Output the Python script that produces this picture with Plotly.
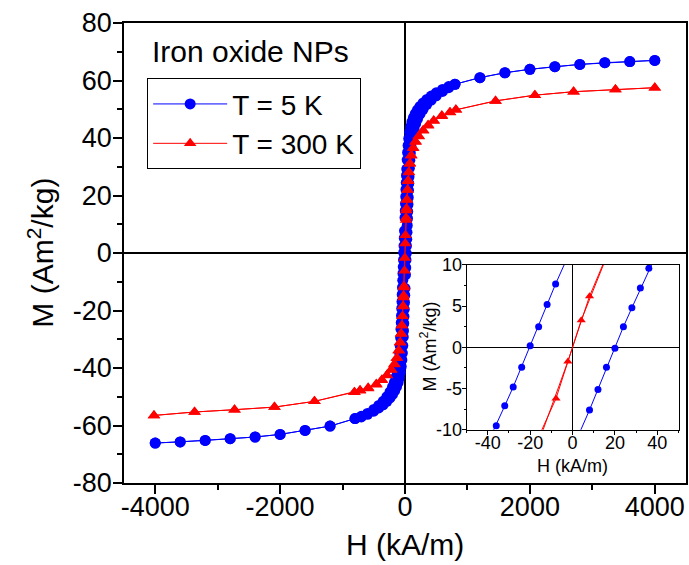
import plotly.graph_objects as go

# ---------------- data (H in kA/m, M in Am^2/kg) ----------------
blue_down_H = [4000, 3600, 3200, 2800, 2400, 2000, 1600, 1200, 800, 700, 600, 500, 420, 350, 290, 240,
               200, 165, 135, 110, 90, 74, 60, 50, 42, 35, 28, 24, 20, 16, 12, 8, 4, 0,
               -8, -12, -16, -20, -24, -28, -32, -36, -40, -44, -48, -52, -56, -60, -64,
               -70, -77, -85, -95, -108, -124, -145, -170, -200, -240, -290, -350, -420, -500,
               -600, -700, -800, -1200, -1600, -2000, -2400, -2800, -3200, -3600, -4000]
blue_down_M = [67.0, 66.6, 66.2, 65.6, 64.8, 63.9, 62.7, 61.0, 58.7, 57.9, 56.9, 55.7, 54.6, 53.4, 52.2, 51.0,
               49.8, 48.5, 47.1, 45.6, 43.9, 42.0, 39.8, 37.4, 35.0, 32.4, 29.2, 27.0, 24.5, 22.1, 19.6, 17.2, 14.7, 12.3,
               7.7, 5.2, 2.5, 0.2, -2.4, -4.8, -7.1, -9.5, -12.0, -14.4, -16.9, -19.3, -21.8, -24.2, -26.5,
               -29.5, -32.3, -34.8, -37.1, -39.3, -41.3, -43.2, -45.0, -46.6, -48.3, -50.0, -51.6, -53.0, -54.4,
               -55.8, -56.8, -57.6, -60.2, -61.7, -63.1, -64.0, -64.6, -65.2, -65.7, -66.1]

blue_up_H = [-4000, -3600, -3200, -2800, -2400, -2000, -1600, -1200, -800, -700, -600, -500, -420, -350, -290, -240,
             -200, -165, -135, -110, -90, -74, -60, -50, -42, -35, -28, -24, -20, -16, -12, -8, -4, 0,
             8, 12, 16, 20, 24, 28, 32, 36, 40, 44, 48, 52, 56, 60, 64,
             70, 77, 85, 95, 108, 124, 145, 170, 200, 240, 290, 350, 420, 500,
             600, 700, 800, 1200, 1600, 2000, 2400, 2800, 3200, 3600, 4000]
blue_up_M = [-66.1, -65.7, -65.2, -64.6, -64.0, -63.1, -61.7, -60.2, -57.6, -57.0, -56.1, -55.0, -53.9, -52.8, -51.6, -50.4,
             -49.2, -47.9, -46.5, -45.0, -43.4, -41.6, -39.5, -37.2, -34.8, -32.2, -29.2, -27.0, -24.5, -22.1, -19.6, -17.2, -14.7, -12.3,
             -7.6, -5.1, -2.4, -0.1, 2.5, 4.8, 7.2, 9.6, 12.0, 14.4, 16.9, 19.3, 21.8, 24.2, 26.5,
             29.5, 32.3, 34.8, 37.1, 39.3, 41.3, 43.2, 45.0, 46.6, 48.3, 50.0, 51.7, 53.2, 54.7,
             56.2, 57.5, 58.7, 61.0, 62.7, 63.9, 64.8, 65.6, 66.2, 66.6, 67.0]

red_down_H = [4000, 3370, 2700, 2080, 1450, 815, 720, 590, 460, 370, 290, 220, 170, 130, 100, 78, 62, 50, 40, 31, 24, 18,
              8, -2.2, -16, -22, -30, -40, -50, -62, -78, -100, -130, -170, -220, -290, -370, -460, -590, -720, -810,
              -1450, -2090, -2730, -3370, -4020]
red_down_M = [57.5, 56.9, 56.1, 54.9, 52.9, 49.8, 49.0, 47.8, 46.1, 44.5, 42.7, 40.7, 38.8, 36.6, 34.0, 31.2, 28.2, 25.2, 22.0, 18.6, 15.5, 12.3,
              6.2, -1.7, -11.5, -14.8, -18.4, -22.0, -25.2, -28.0, -31.0, -33.8, -36.4, -38.6, -40.5, -42.4, -44.1, -45.6, -46.9, -47.7, -48.4,
              -51.6, -53.6, -54.5, -55.3, -56.5]

red_up_H = [-4020, -3370, -2730, -2090, -1450, -810, -720, -590, -460, -370, -290, -220, -170, -130, -100, -78, -62, -50, -40, -31, -24, -18,
            -7.8, 4.1, 16, 22, 30, 40, 50, 62, 78, 100, 130, 170, 220, 290, 370, 460, 590, 720, 815,
            1450, 2080, 2700, 3370, 4000]
red_up_M = [-56.5, -55.3, -54.5, -53.6, -51.6, -48.4, -47.9, -47.1, -45.8, -44.3, -42.6, -40.7, -38.8, -36.6, -34.0, -31.2, -28.2, -25.2, -22.0, -18.6, -15.5, -12.0,
            -6.2, 3.3, 11.5, 14.8, 18.4, 21.9, 25.0, 28.0, 31.0, 33.8, 36.4, 38.6, 40.5, 42.5, 44.3, 45.9, 47.6, 48.9, 49.8,
            52.9, 54.9, 56.1, 56.9, 57.5]

series_names = ["T = 5 K", "T = 300 K"]
main_x_ticks = [-4000, -2000, 0, 2000, 4000]
main_x_labels = ["-4000", "-2000", "0", "2000", "4000"]
main_y_ticks = [-80, -60, -40, -20, 0, 20, 40, 60, 80]
main_y_labels = ["-80", "-60", "-40", "-20", "0", "20", "40", "60", "80"]
inset_x_ticks = [-40, -20, 0, 20, 40]
inset_x_labels = ["-40", "-20", "0", "20", "40"]
inset_y_ticks = [-10, -5, 0, 5, 10]
inset_y_labels = ["-10", "-5", "0", "5", "10"]

BLUE = "#0000FF"
RED = "#FF0000"
FONT = "Liberation Sans, Arial, sans-serif"

fig = go.Figure()

# main plot traces
for H, M, show in [(blue_down_H, blue_down_M, True), (blue_up_H, blue_up_M, False)]:
    fig.add_trace(go.Scatter(x=H, y=M, mode="lines+markers", name=series_names[0], legendgroup="b",
                             showlegend=show, line=dict(color=BLUE, width=1),
                             marker=dict(symbol="circle", size=11, color=BLUE),
                             xaxis="x", yaxis="y"))
for H, M, show in [(red_down_H, red_down_M, True), (red_up_H, red_up_M, False)]:
    fig.add_trace(go.Scatter(x=H, y=M, mode="lines+markers", name=series_names[1], legendgroup="r",
                             showlegend=show, line=dict(color=RED, width=1),
                             marker=dict(symbol="triangle-up", size=11, color=RED),
                             xaxis="x", yaxis="y"))

# inset traces (same data, zoomed view)
for H, M in [(blue_down_H, blue_down_M), (blue_up_H, blue_up_M)]:
    fig.add_trace(go.Scatter(x=H, y=M, mode="lines+markers", showlegend=False,
                             line=dict(color=BLUE, width=1),
                             marker=dict(symbol="circle", size=7, color=BLUE),
                             xaxis="x2", yaxis="y2"))
for H, M in [(red_down_H, red_down_M), (red_up_H, red_up_M)]:
    fig.add_trace(go.Scatter(x=H, y=M, mode="lines+markers", showlegend=False,
                             line=dict(color=RED, width=1),
                             marker=dict(symbol="triangle-up", size=8, color=RED),
                             xaxis="x2", yaxis="y2"))

# geometry (pixels)
W, Hh = 689, 565
L, R, T, B = 123.5, 686.5, 22.7, 483.3
pw, ph = R - L, B - T

def px(x):
    return (x - L) / pw

def py(y):
    return (B - y) / ph

axis_common = dict(showline=True, linecolor="black", linewidth=1.5, mirror=True,
                   ticks="outside", tickcolor="black", tickwidth=1.5,
                   showgrid=False, zeroline=True, zerolinecolor="black", zerolinewidth=1.5)
inset_common = {**axis_common, "linewidth": 1, "zerolinewidth": 1.2, "tickwidth": 1}

fig.update_layout(
    width=W, height=Hh, autosize=False,
    margin=dict(l=L, r=W - R, t=T, b=Hh - B, pad=0),
    paper_bgcolor="white", plot_bgcolor="white",
    font=dict(family=FONT, color="black"),
    xaxis=dict(range=[-4500, 4500], domain=[0, 1], tickvals=main_x_ticks, ticktext=main_x_labels,
               ticklen=9, tickfont=dict(size=27), ticklabelstandoff=-10,
               minor=dict(dtick=1000, tick0=0, ticklen=5, ticks="outside", tickcolor="black", tickwidth=1.5),
               **axis_common),
    yaxis=dict(range=[-80, 80], domain=[0, 1], tickvals=main_y_ticks, ticktext=main_y_labels,
               ticklen=9, tickfont=dict(size=27), ticklabelstandoff=-4,
               minor=dict(dtick=10, tick0=0, ticklen=5, ticks="outside", tickcolor="black", tickwidth=1.5),
               **axis_common),
    xaxis2=dict(range=[-50, 50], domain=[px(466.7), px(679)], anchor="y2",
                tickvals=inset_x_ticks, ticktext=inset_x_labels, ticklen=4, tickfont=dict(size=18),
                ticklabelstandoff=-7,
                minor=dict(dtick=10, tick0=0, ticklen=2, ticks="outside", tickcolor="black"),
                **inset_common),
    yaxis2=dict(range=[-10, 10], domain=[py(430), py(265)], anchor="x2",
                tickvals=inset_y_ticks, ticktext=inset_y_labels, ticklen=4, tickfont=dict(size=18),
                ticklabelstandoff=-4,
                minor=dict(dtick=2.5, tick0=0, ticklen=2, ticks="outside", tickcolor="black"),
                **inset_common),
    legend=dict(x=px(146.7), y=py(78), xanchor="left", yanchor="top",
                bgcolor="white", bordercolor="black", borderwidth=1,
                font=dict(size=28, family=FONT), tracegroupgap=0, itemwidth=74),
    annotations=[
        dict(text="Iron oxide NPs", x=px(150), y=py(50.8), xref="paper", yref="paper",
             xanchor="left", yanchor="middle", showarrow=False, font=dict(size=30)),
        dict(text="H (kA/m)", x=px(405), y=py(545), xref="paper", yref="paper",
             xanchor="center", yanchor="middle", showarrow=False, font=dict(size=30)),
        dict(text="M (Am<sup>2</sup>/kg)", x=px(40), y=py(253), xref="paper", yref="paper",
             xanchor="center", yanchor="middle", showarrow=False, textangle=-90, font=dict(size=30)),
        dict(text="H (kA/m)", x=px(572.8), y=py(466), xref="paper", yref="paper",
             xanchor="center", yanchor="middle", showarrow=False, font=dict(size=18)),
        dict(text="M (Am<sup>2</sup>/kg)", x=px(429), y=py(346.7), xref="paper", yref="paper",
             xanchor="center", yanchor="middle", showarrow=False, textangle=-90, font=dict(size=18)),
    ],
)

fig.write_html("out.html")
